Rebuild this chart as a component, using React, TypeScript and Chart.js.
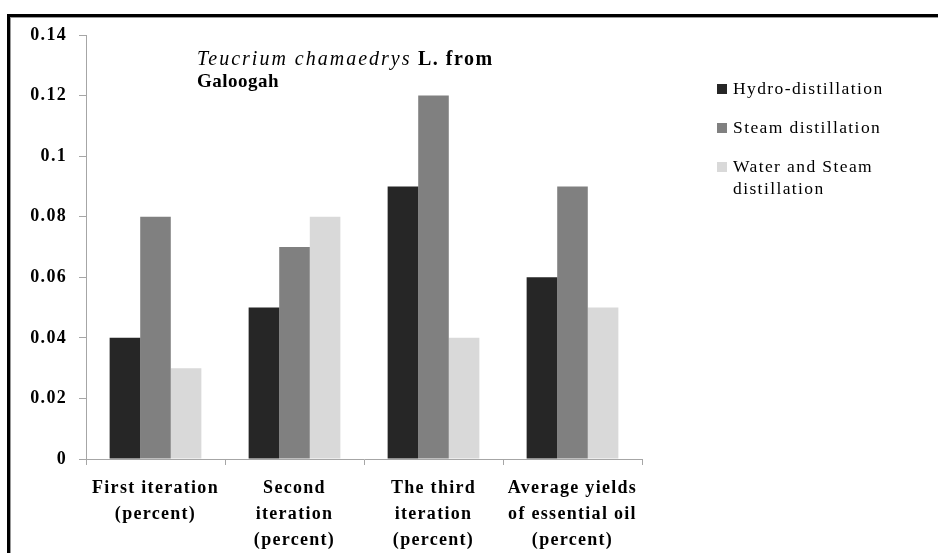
import React, { useEffect, useRef } from "react";
import { Chart, registerables } from "chart.js";

Chart.register(...registerables);

const categories: string[][] = [
  ["First iteration", "(percent)"],
  ["Second", "iteration", "(percent)"],
  ["The third", "iteration", "(percent)"],
  ["Average yields", "of essential oil", "(percent)"],
];
const seriesNames = ["Hydro-distillation", "Steam distillation", "Water and Steam distillation"];
const legendLines: string[][] = [["Hydro-distillation"], ["Steam distillation"], ["Water and Steam", "distillation"]];
const hydro = [0.04, 0.05, 0.09, 0.06];
const steam = [0.08, 0.07, 0.12, 0.09];
const waterSteam = [0.03, 0.08, 0.04, 0.05];
const seriesColors = ["#262626", "#808080", "#d9d9d9"];
const yMin = 0;
const yMax = 0.14;
const yStep = 0.02;

const FONT = "'Liberation Serif', 'Times New Roman', serif";
const SPACING = "1.3px";

const spacingPlugin = {
  id: "spacing",
  beforeUpdate(chart: any) {
    chart.ctx.letterSpacing = SPACING;
  },
  beforeDraw(chart: any) {
    chart.ctx.letterSpacing = SPACING;
  },
};

const titlePlugin = {
  id: "customTitle",
  afterDraw(chart: any) {
    const ctx = chart.ctx;
    ctx.save();
    ctx.fillStyle = "#000";
    ctx.textBaseline = "alphabetic";
    ctx.textAlign = "left";
    let x = 197;
    ctx.letterSpacing = "2px";
    ctx.font = `italic 20px ${FONT}`;
    const p1 = "Teucrium chamaedrys";
    ctx.fillText(p1, x, 65);
    x += ctx.measureText(p1).width;
    ctx.letterSpacing = "1.5px";
    ctx.font = `bold 20px ${FONT}`;
    ctx.fillText(" L. from", x, 65);
    ctx.letterSpacing = "0.5px";
    ctx.font = `bold 19px ${FONT}`;
    ctx.fillText("Galoogah", 197, 87);
    ctx.restore();
  },
};

const legendPlugin = {
  id: "customLegend",
  afterDraw(chart: any) {
    const ctx = chart.ctx;
    ctx.save();
    ctx.letterSpacing = "1.4px";
    ctx.font = `17.5px ${FONT}`;
    ctx.textBaseline = "middle";
    ctx.textAlign = "left";
    const boxX = 717;
    const textX = 733;
    let y = 89;
    chart.data.datasets.forEach((ds: any, i: number) => {
      ctx.fillStyle = ds.backgroundColor;
      ctx.fillRect(boxX, y - 5, 10, 10);
      ctx.fillStyle = "#000";
      const lines = legendLines[i] || [ds.label];
      lines.forEach((ln, j) => ctx.fillText(ln, textX, y + j * 22));
      y += 39 + (lines.length - 1) * 22;
    });
    ctx.restore();
  },
};

export default function App() {
  const ref = useRef<HTMLCanvasElement>(null);
  useEffect(() => {
    if (!ref.current) return;
    const chart = new Chart(ref.current, {
      type: "bar",
      data: {
        labels: categories as any,
        datasets: [hydro, steam, waterSteam].map((d, i) => ({
          label: seriesNames[i],
          data: d,
          backgroundColor: seriesColors[i],
          borderWidth: 0,
          categoryPercentage: 0.66,
          barPercentage: 1.0,
        })),
      },
      options: {
        responsive: false,
        animation: false,
        devicePixelRatio: 1,
        layout: { padding: { left: 0, right: 296, top: 35, bottom: 0 } },
        plugins: {
          legend: { display: false },
          title: { display: false },
          tooltip: { enabled: false },
        },
        scales: {
          x: {
            afterFit: (s: any) => {
              s.height = 94;
            },
            grid: {
              offset: true,
              drawOnChartArea: false,
              drawTicks: true,
              tickLength: 6,
              color: "#a6a6a6",
            },
            border: { display: true, color: "#a6a6a6" },
            ticks: {
              color: "#000",
              padding: 10,
              maxRotation: 0,
              autoSkip: false,
              font: { family: FONT, size: 18, weight: "bold", lineHeight: "26px" },
            },
          },
          y: {
            min: yMin,
            max: yMax,
            afterFit: (s: any) => {
              s.width = 86;
            },
            grid: {
              drawOnChartArea: false,
              drawTicks: true,
              tickLength: 7,
              color: "#a6a6a6",
            },
            border: { display: true, color: "#a6a6a6" },
            ticks: {
              stepSize: yStep,
              color: "#000",
              padding: 12,
              font: { family: FONT, size: 18, weight: "bold" },
              callback: (v: any) => String(Number(Number(v).toFixed(2))),
            },
          },
        },
      },
      plugins: [spacingPlugin, titlePlugin, legendPlugin],
    });
    return () => chart.destroy();
  }, []);

  return (
    <div style={{ position: "fixed", left: 0, top: 0, width: 938, height: 553, background: "#fff", overflow: "hidden" }}>
      <div
        style={{
          position: "absolute",
          left: 7,
          top: 14,
          right: -10,
          bottom: -10,
          borderLeft: "3px solid #000",
          borderTop: "3px solid #000",
        }}
      >
        <div
          style={{
            position: "absolute",
            left: 0,
            top: 0,
            right: 0,
            bottom: 0,
            borderLeft: "1px solid #999",
            borderTop: "1px solid #999",
          }}
        />
      </div>
      <canvas ref={ref} width={938} height={553} style={{ position: "absolute", left: 0, top: 0 }} />
    </div>
  );
}
